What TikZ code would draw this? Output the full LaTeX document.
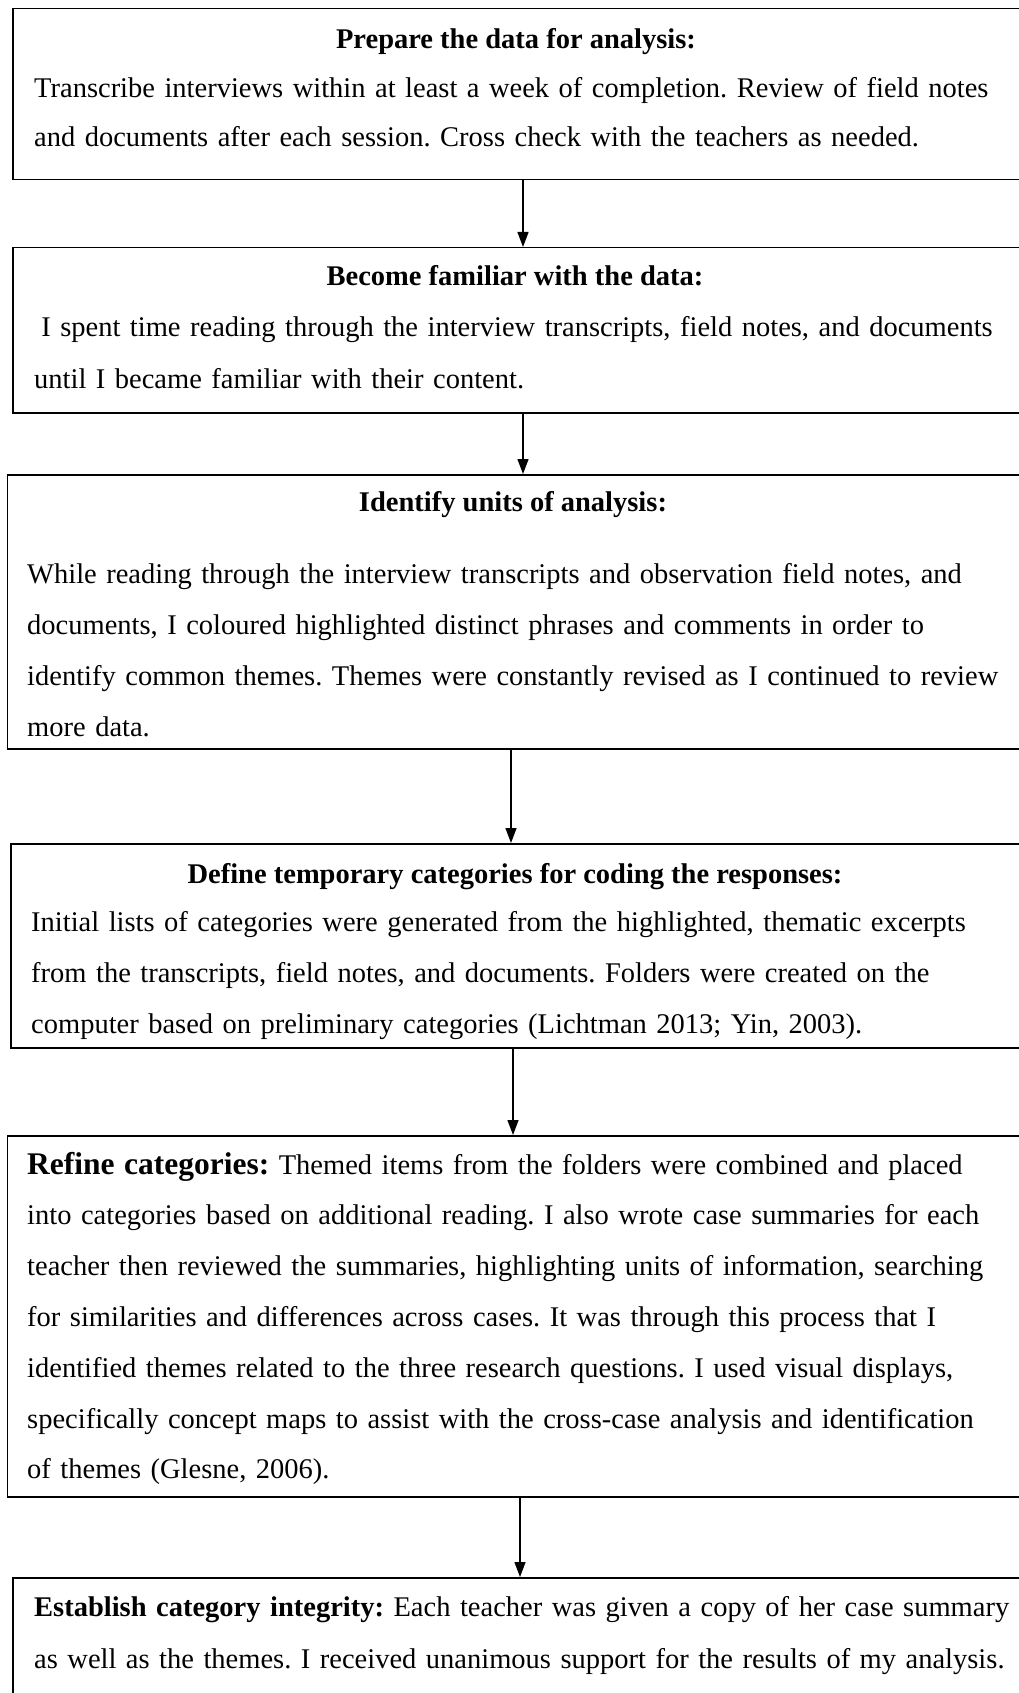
\documentclass[tikz,border=0pt]{standalone}
\usepackage{fontspec}
\setmainfont{Liberation Serif}
\usetikzlibrary{arrows.meta}
\frenchspacing
\begin{document}
\begin{tikzpicture}[x=1pt,y=-1pt,
  flowbox/.style={draw, line width=1.5pt, anchor=north west, inner sep=0pt, minimum width=1018pt},
  heading/.style={font=\fontsize{28.5}{51}\selectfont\bfseries, anchor=base, inner sep=0pt},
  body/.style={font=\fontsize{28.5}{#1}\selectfont\frenchspacing, anchor=base west, inner sep=0pt, text width=1000pt, align=left},
  link/.style={line width=1.3pt, -{Triangle[length=15pt,width=11pt]}}]
\fill[white] (0,0) rectangle (1019,1693);
\useasboundingbox (0,0) rectangle (1019,1693);

% boxes of the six analysis steps
\node[flowbox, minimum height=171pt] (b1) at (12,8) {};
\node[flowbox, minimum height=165pt] (b2) at (12,247) {};
\node[flowbox, minimum height=274pt] (b3) at (6.5,474) {};
\node[flowbox, minimum height=204pt] (b4) at (10,843) {};
\node[flowbox, minimum height=361pt] (b5) at (6.5,1135) {};
\node[flowbox, minimum height=150pt] (b6) at (12,1577) {};

% headings
\node[heading] (t1) at (516,49) {Prepare the data for analysis:};
\node[heading] (t2) at (515,286) {Become familiar with the data:};
\node[heading] (t3) at (513,511) {Identify units of analysis:};
\node[heading] (t4) at (515,883) {Define temporary categories for coding the responses:};

% body texts
\node[body=49] (p1) at (34,98) {Transcribe interviews within at least a week of completion. Review of field notes\\
and documents after each session. Cross check with the teachers as needed.};
\node[body=52] (p2) at (34,336) {\hspace*{.25em}I spent time reading through the interview transcripts, field notes, and documents\\
until I became familiar with their content.};
\node[body=51] (p3) at (27,583) {While reading through the interview transcripts and observation field notes, and\\
documents, I coloured highlighted distinct phrases and comments in order to\\
identify common themes. Themes were constantly revised as I continued to review\\
more data.};
\node[body=51] (p4) at (31,931) {Initial lists of categories were generated from the highlighted, thematic excerpts\\
from the transcripts, field notes, and documents. Folders were created on the\\
computer based on preliminary categories (Lichtman 2013; Yin, 2003).};
\node[body=50.8] (p5) at (27,1174) {{\fontsize{31.5}{50.8}\selectfont\bfseries Refine categories:} Themed items from the folders were combined and placed\\
into categories based on additional reading. I also wrote case summaries for each\\
teacher then reviewed the summaries, highlighting units of information, searching\\
for similarities and differences across cases. It was through this process that I\\
identified themes related to the three research questions. I used visual displays,\\
specifically concept maps to assist with the cross-case analysis and identification\\
of themes (Glesne, 2006).};
\node[body=52] (p6) at (34,1616) {\textbf{Establish category integrity:} Each teacher was given a copy of her case summary\\
as well as the themes. I received unanimous support for the results of my analysis.};

% connectors between consecutive steps
\draw[link] ([xshift=511pt]b1.south west) -- ([xshift=511pt]b2.north west);
\draw[link] ([xshift=511pt]b2.south west) -- ([xshift=516.5pt]b3.north west);
\draw[link] ([xshift=504.5pt]b3.south west) -- ([xshift=501pt]b4.north west);
\draw[link] ([xshift=503pt]b4.south west) -- ([xshift=506.5pt]b5.north west);
\draw[link] ([xshift=513.5pt]b5.south west) -- ([xshift=508pt]b6.north west);
\end{tikzpicture}
\end{document}
